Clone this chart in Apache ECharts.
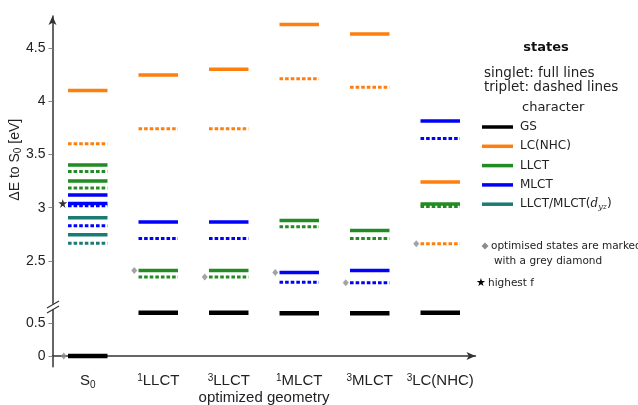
<!DOCTYPE html>
<html>
<head>
<meta charset="utf-8">
<script src="https://cdn.jsdelivr.net/npm/echarts@6/dist/echarts.min.js"></script>
<style>html,body{margin:0;background:#fff}#main{width:638px;height:405px}</style>
</head>
<body>
<div id="main"></div>
<script>
// optimized geometries on the x axis
var categories = ['S0', '1LLCT', '3LLCT', '1MLCT', '3MLCT', '3LC(NHC)'];
var categoryLabels = ['S{sub|0}', '{sup|1}LLCT', '{sup|3}LLCT', '{sup|1}MLCT', '{sup|3}MLCT', '{sup|3}LC(NHC)'];
var upperTicks = [2.5, 3, 3.5, 4, 4.5];
var lowerTicks = [0, 0.5];

// [column, energy in eV]
var gsSinglet = [[0, 0], [1, 0.656], [2, 0.656], [3, 0.647], [4, 0.647], [5, 0.656]];
var lcSinglet = [[0, 4.10], [1, 4.245], [2, 4.30], [3, 4.72], [4, 4.63], [5, 3.24]];
var lcTriplet = [[0, 3.60], [1, 3.74], [2, 3.74], [3, 4.21], [4, 4.13], [5, 2.66]];
var llctSinglet = [[0, 3.40], [0, 3.25], [1, 2.41], [2, 2.41], [3, 2.88], [4, 2.785], [5, 3.035]];
var llctTriplet = [[0, 3.34], [0, 3.185], [1, 2.35], [2, 2.35], [3, 2.82], [4, 2.71], [5, 3.012]];
var mlctSinglet = [[0, 3.12], [0, 3.04], [1, 2.865], [2, 2.865], [3, 2.39], [4, 2.41], [5, 3.815]];
var mlctTriplet = [[0, 3.018], [0, 2.83], [1, 2.71], [2, 2.71], [3, 2.30], [4, 2.295], [5, 3.65]];
var mixSinglet = [[0, 2.905], [0, 2.745]];
var mixTriplet = [[0, 2.665]];
var optimisedUpper = [[1, 2.41], [2, 2.35], [3, 2.39], [4, 2.295], [5, 2.66]];
var optimisedLower = [[0, 0]];
var highestF = [[0, 3.04]];

var legendNames = ['GS', 'LC(NHC)', 'LLCT', 'MLCT', 'LLCT/MLCT({it|d}{sub|yz})'];
var legendColors = ['#000000', '#ff7f0e', '#228b22', '#0000ff', '#1b7a74'];

var FONT = 'DejaVu Sans';
var NUMFONT = 'Liberation Sans';
var AXIS = '#333333';
var STAR = 'path://M50,0 L61,35 L98,35 L68,57 L79,91 L50,70 L21,91 L32,57 L2,35 L39,35 Z';

function levels(data, color, dashed, grid, width) {
  return {
    type: 'custom', xAxisIndex: grid, yAxisIndex: grid, data: data, silent: true,
    renderItem: function (params, api) {
      var p = api.coord([api.value(0), api.value(1)]);
      var half = api.size([1, 0])[0] * 0.28;
      return {
        type: 'line',
        shape: {x1: p[0] - half, y1: p[1], x2: p[0] + half, y2: p[1]},
        style: {stroke: color, lineWidth: width || (dashed ? 3 : 3.5), lineDash: dashed ? [3.6, 2] : null}
      };
    }
  };
}

var richText = {
  sub: {fontFamily: NUMFONT, fontSize: 10, verticalAlign: 'bottom', padding: [7, 0, 0, 0], color: '#222'},
  sup: {fontFamily: NUMFONT, fontSize: 10, verticalAlign: 'top', padding: [0, 0, 7, 0], color: '#222'}
};

var chart = echarts.init(document.getElementById('main'));

var legendItems = [];
legendNames.forEach(function (n, i) {
  var y = 127 + 19.3 * i;
  legendItems.push({type: 'line', shape: {x1: 482, y1: y, x2: 513, y2: y}, style: {stroke: legendColors[i], lineWidth: 3.5}});
  legendItems.push({type: 'text', x: 520, y: y, style: {
    text: n, fontFamily: FONT, fontSize: 12, fill: '#222', verticalAlign: 'middle',
    rich: {it: {fontFamily: 'DejaVu Serif', fontStyle: 'italic', fontSize: 12}, sub: {fontFamily: 'DejaVu Serif', fontStyle: 'italic', fontSize: 8, padding: [6, 0, 0, 0]}}
  }});
});

chart.setOption({
  animation: false,
  grid: [
    {left: 52.5, width: 423, top: 16, height: 287.5, outerBoundsMode: 'none'},
    {left: 52.5, width: 423, top: 309.8, height: 57, outerBoundsMode: 'none'}
  ],
  xAxis: [
    {type: 'category', gridIndex: 0, data: categories, show: false},
    {type: 'category', gridIndex: 1, data: categories,
      axisLine: {lineStyle: {color: AXIS, width: 1.5}, symbol: ['none', 'arrow'], symbolSize: [6, 9]},
      axisTick: {show: false},
      axisLabel: {
        interval: 0, margin: 6, color: '#222', fontFamily: NUMFONT, fontSize: 15,
        formatter: function (v, i) { return categoryLabels[i]; },
        rich: richText
      },
      name: 'optimized geometry', nameLocation: 'middle', nameGap: 22,
      nameTextStyle: {fontFamily: NUMFONT, fontSize: 15, color: '#222'}
    }
  ],
  yAxis: [
    {type: 'value', gridIndex: 0, min: 2.1, max: 4.8,
      axisLine: {show: true, lineStyle: {color: AXIS, width: 1.5}, symbol: ['none', 'arrow'], symbolSize: [6, 9]},
      axisTick: {show: true, length: 4, customValues: upperTicks, lineStyle: {color: '#888'}},
      axisLabel: {customValues: upperTicks, color: '#222', fontFamily: NUMFONT, fontSize: 14, margin: 7},
      splitLine: {show: false},
      name: 'ΔE to S{sub|0} [eV]', nameLocation: 'middle', nameGap: 29, nameRotate: 90, nameMoveOverlap: false,
      nameTextStyle: {fontFamily: NUMFONT, fontSize: 14, color: '#222', rich: richText}
    },
    {type: 'value', gridIndex: 1, min: -0.165, max: 0.7,
      axisLine: {show: true, lineStyle: {color: AXIS, width: 1.5}},
      axisTick: {show: true, length: 4, customValues: lowerTicks, lineStyle: {color: '#888'}},
      axisLabel: {customValues: lowerTicks, color: '#222', fontFamily: NUMFONT, fontSize: 14, margin: 7},
      splitLine: {show: false}
    }
  ],
  series: [
    levels(gsSinglet, legendColors[0], false, 1, 4.5),
    levels(lcSinglet, legendColors[1], false, 0),
    levels(lcTriplet, legendColors[1], true, 0),
    levels(llctSinglet, legendColors[2], false, 0),
    levels(llctTriplet, legendColors[2], true, 0),
    levels(mlctSinglet, legendColors[3], false, 0),
    levels(mlctTriplet, legendColors[3], true, 0),
    levels(mixSinglet, legendColors[4], false, 0),
    levels(mixTriplet, legendColors[4], true, 0),
    {type: 'scatter', xAxisIndex: 0, yAxisIndex: 0, data: optimisedUpper, symbol: 'diamond',
      symbolSize: [6, 7], symbolOffset: [-24, 0], itemStyle: {color: '#8c8c8c'}, silent: true},
    {type: 'scatter', xAxisIndex: 1, yAxisIndex: 1, data: optimisedLower, symbol: 'diamond',
      symbolSize: [6, 7], symbolOffset: [-24, 0], itemStyle: {color: '#8c8c8c'}, silent: true},
    {type: 'scatter', xAxisIndex: 0, yAxisIndex: 0, data: highestF, symbol: STAR,
      symbolSize: 9, symbolOffset: [-25, 0], itemStyle: {color: '#000'}, silent: true}
  ],
  graphic: [
    // axis break marks
    {type: 'line', shape: {x1: 47, y1: 308, x2: 59, y2: 301}, style: {stroke: AXIS, lineWidth: 1.2}},
    {type: 'line', shape: {x1: 47, y1: 313, x2: 59, y2: 306}, style: {stroke: AXIS, lineWidth: 1.2}},
    // custom legend
    {type: 'text', x: 546, y: 48, style: {text: 'states', fontFamily: FONT, fontSize: 13, fontWeight: 'bold', fill: '#111', align: 'center', verticalAlign: 'middle'}},
    {type: 'text', x: 484, y: 73, style: {text: 'singlet: full lines', fontFamily: FONT, fontSize: 13.5, fill: '#222', verticalAlign: 'middle'}},
    {type: 'text', x: 484, y: 87, style: {text: 'triplet: dashed lines', fontFamily: FONT, fontSize: 13.5, fill: '#222', verticalAlign: 'middle'}},
    {type: 'text', x: 522, y: 108, style: {text: 'character', fontFamily: FONT, fontSize: 13, fill: '#222', verticalAlign: 'middle'}},
    {type: 'polygon', shape: {points: [[485, 242.5], [488.5, 246], [485, 249.5], [481.5, 246]]}, style: {fill: '#8c8c8c'}},
    {type: 'text', x: 491, y: 246, style: {text: 'optimised states are marked', fontFamily: FONT, fontSize: 10.5, fill: '#222', verticalAlign: 'middle'}},
    {type: 'text', x: 494, y: 261, style: {text: 'with a grey diamond', fontFamily: FONT, fontSize: 10.5, fill: '#222', verticalAlign: 'middle'}},
    {type: 'text', x: 481, y: 283, style: {text: '★', fontFamily: FONT, fontSize: 11, fill: '#000', align: 'center', verticalAlign: 'middle'}},
    {type: 'text', x: 488, y: 283, style: {text: 'highest f', fontFamily: FONT, fontSize: 10.5, fill: '#222', verticalAlign: 'middle'}}
  ].concat(legendItems)
});
</script>
</body>
</html>
